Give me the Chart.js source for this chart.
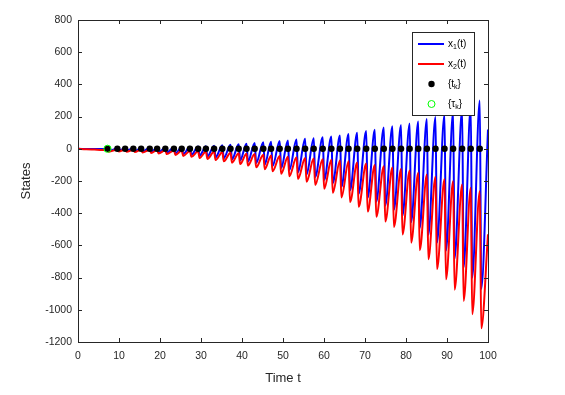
<!DOCTYPE html>
<html>
<head>
<meta charset="utf-8">
<title>States</title>
<script src="https://cdn.jsdelivr.net/npm/chart.js@4"></script>
<style>
    html, body { margin: 0; padding: 0; background: #fff; }
    canvas { display: block; }
</style>
</head>
<body>
<canvas id="statesChart" width="565" height="395"></canvas>
<script>
// impulse instants and the one tau instant
const tk = [7.2, 9.6, 11.5, 13.5, 15.4, 17.5, 19.3, 21.3, 23.4, 25.3, 27.3, 29.3, 31.2, 33.2, 35.2,
    37.2, 39.2, 41.1, 43.1, 45.2, 47.1, 49.2, 51.2, 53.3, 55.4, 57.5, 59.7, 61.8, 63.9, 66.0,
    68.1, 70.3, 72.4, 74.6, 76.7, 78.8, 80.9, 83.0, 85.1, 87.2, 89.4, 91.5, 93.7, 95.8, 98.0];
const tauK = [7.2];

// time of the dip after each impulse
const tDip = [7.55, 9.95, 11.85, 13.85, 15.75, 17.85, 19.65, 21.65, 23.75, 25.65, 27.65, 29.65, 31.55, 33.55, 35.55,
    37.55, 39.55, 41.45, 43.45, 45.55, 47.45, 49.55, 51.55, 53.65, 55.75, 57.85, 60.05, 62.15, 64.25, 66.35,
    68.45, 70.65, 72.75, 74.95, 77.05, 79.15, 81.25, 83.35, 85.45, 87.55, 89.75, 91.85, 94.05, 96.15, 98.35];

// x1 (blue): value at each impulse and at each dip
const x1Peak = [0, 2, 3, 4, 5, 6, 7, 8, 9, 10, 12, 14, 16, 19, 22,
    25, 28, 32, 36, 40, 44, 48, 52, 57, 62, 66, 71, 76, 82, 92,
    100, 110, 119, 132, 140, 148, 157, 169, 185, 198, 212, 228, 245, 265, 300];
const x1Dip = [-12, -11, -12, -14, -16, -19, -21, -24, -28, -33, -37, -43, -48, -53, -59,
    -66, -73, -80, -89, -98, -108, -120, -132, -146, -160, -175, -193, -213, -236, -258,
    -281, -304, -329, -353, -379, -415, -455, -491, -535, -583, -632, -682, -737, -801, -870];

// x2 (red)
const x2Peak = [-8, -5, -5, -6, -6, -7, -8, -9, -10, -11, -13, -15, -17, -19, -21,
    -24, -27, -30, -33, -37, -41, -45, -49, -53, -57, -61, -65, -68, -72, -78,
    -85, -92, -100, -108, -116, -125, -135, -148, -160, -174, -188, -202, -222, -242, -263];
const x2Dip = [-18, -16, -18, -20, -23, -26, -29, -33, -38, -44, -50, -57, -63, -70, -78,
    -86, -95, -104, -115, -127, -140, -155, -170, -188, -205, -225, -248, -273, -302, -331,
    -360, -390, -422, -452, -486, -532, -583, -630, -686, -748, -810, -875, -945, -1027, -1115];

// before the first impulse and the tail at t = 100
const tStart = [0, 2, 4, 6];
const x1Start = [0, -1, -2, -2];
const x2Start = [0, -3, -5, -7];
const tEnd = [100];
const x1End = [120];
const x2End = [-531];

const xTicks = [0, 10, 20, 30, 40, 50, 60, 70, 80, 90, 100];
const yTicks = [-1200, -1000, -800, -600, -400, -200, 0, 200, 400, 600, 800];

const FONT = '"Liberation Sans", Arial, Helvetica, sans-serif';
const AXIS_COLOR = '#262626';

function buildSeries(start, peaks, dips, end) {
    const pts = [];
    tStart.forEach((t, i) => pts.push({x: t, y: start[i]}));
    tk.forEach((t, i) => {
        pts.push({x: t, y: peaks[i]});
        pts.push({x: tDip[i], y: dips[i]});
    });
    tEnd.forEach((t, i) => pts.push({x: t, y: end[i]}));
    return pts;
}

// box round the axes with inward ticks, like matlab
const boxPlugin = {
    id: 'box',
    afterDraw(chart) {
        const {ctx, chartArea: a, scales} = chart;
        const len = 4;
        ctx.save();
        ctx.strokeStyle = AXIS_COLOR;
        ctx.lineWidth = 1;
        ctx.beginPath();
        xTicks.forEach(v => {
            const px = Math.round(scales.x.getPixelForValue(v)) + 0.5;
            ctx.moveTo(px, a.bottom); ctx.lineTo(px, a.bottom - len);
            ctx.moveTo(px, a.top); ctx.lineTo(px, a.top + len);
        });
        yTicks.forEach(v => {
            const py = Math.round(scales.y.getPixelForValue(v)) + 0.5;
            ctx.moveTo(a.left, py); ctx.lineTo(a.left + len, py);
            ctx.moveTo(a.right, py); ctx.lineTo(a.right - len, py);
        });
        ctx.stroke();
        ctx.strokeRect(Math.round(a.left) + 0.5, Math.round(a.top) + 0.5,
            Math.round(a.right - a.left), Math.round(a.bottom - a.top));
        ctx.restore();
    }
};

// legend inside the top right corner, with subscripts
const legendPlugin = {
    id: 'cornerLegend',
    afterDatasetsDraw(chart) {
        const ctx = chart.ctx;
        const bx = 412.5, by = 32.5, bw = 62, bh = 83;
        const entries = [
            {base: 'x', sub: '1', tail: '(t)', kind: 'line', color: '#0000ff'},
            {base: 'x', sub: '2', tail: '(t)', kind: 'line', color: '#ff0000'},
            {base: '{t', sub: 'k', tail: '}', kind: 'dot', color: '#000000'},
            {base: '{\u03c4', sub: 'k', tail: '}', kind: 'ring', color: '#00ff00'}
        ];
        ctx.save();
        ctx.fillStyle = '#fff';
        ctx.fillRect(bx, by, bw, bh);
        ctx.strokeStyle = AXIS_COLOR;
        ctx.lineWidth = 1;
        ctx.strokeRect(bx, by, bw, bh);

        entries.forEach((e, i) => {
            const y = 44 + i * 20;
            if (e.kind === 'line') {
                ctx.strokeStyle = e.color;
                ctx.lineWidth = 2;
                ctx.beginPath();
                ctx.moveTo(418, y); ctx.lineTo(444, y);
                ctx.stroke();
            } else if (e.kind === 'dot') {
                ctx.fillStyle = e.color;
                ctx.beginPath();
                ctx.arc(431.5, y, 3.2, 0, Math.PI * 2);
                ctx.fill();
            } else {
                ctx.strokeStyle = e.color;
                ctx.lineWidth = 1;
                ctx.beginPath();
                ctx.arc(431.5, y, 3.5, 0, Math.PI * 2);
                ctx.stroke();
            }
            ctx.fillStyle = '#000';
            ctx.textBaseline = 'middle';
            let x = 448;
            ctx.font = '10px ' + FONT;
            ctx.fillText(e.base, x, y);
            x += ctx.measureText(e.base).width;
            ctx.font = '7px ' + FONT;
            ctx.fillText(e.sub, x, y + 3);
            x += ctx.measureText(e.sub).width;
            ctx.font = '10px ' + FONT;
            ctx.fillText(e.tail, x, y);
        });
        ctx.restore();
    }
};

function drawChart() {
    const ctx = document.getElementById('statesChart').getContext('2d');
    new Chart(ctx, {
        type: 'line',
        data: {
            datasets: [{
                label: 'x1(t)',
                data: buildSeries(x1Start, x1Peak, x1Dip, x1End),
                borderColor: '#0000ff',
                borderWidth: 2,
                pointRadius: 0,
                cubicInterpolationMode: 'monotone',
                order: 4
            }, {
                label: 'x2(t)',
                data: buildSeries(x2Start, x2Peak, x2Dip, x2End),
                borderColor: '#ff0000',
                borderWidth: 2,
                pointRadius: 0,
                cubicInterpolationMode: 'monotone',
                order: 3
            }, {
                label: '{tk}',
                data: tk.map(t => ({x: t, y: 0})),
                showLine: false,
                pointRadius: 3.2,
                pointBackgroundColor: '#000',
                pointBorderWidth: 0,
                order: 2
            }, {
                label: '{tauk}',
                data: tauK.map(t => ({x: t, y: 0})),
                showLine: false,
                pointRadius: 3.6,
                pointBackgroundColor: 'rgba(0,0,0,0)',
                pointBorderColor: '#00ff00',
                pointBorderWidth: 1,
                order: 1
            }]
        },
        options: {
            responsive: false,
            animation: false,
            devicePixelRatio: 1,
            layout: { padding: { top: 20, right: 77, left: 0, bottom: 0 } },
            plugins: {
                legend: { display: false },
                tooltip: { enabled: false }
            },
            scales: {
                x: {
                    type: 'linear',
                    min: 0,
                    max: 100,
                    afterFit: s => { s.height = 53; },
                    afterBuildTicks: s => { s.ticks = xTicks.map(v => ({value: v})); },
                    ticks: {
                        font: { size: 10.5, family: FONT },
                        color: AXIS_COLOR,
                        padding: 8,
                        maxRotation: 0,
                        callback: v => String(v)
                    },
                    grid: { display: false, drawTicks: false },
                    border: { display: false },
                    title: {
                        display: true,
                        text: 'Time t',
                        font: { size: 13, family: FONT },
                        color: AXIS_COLOR,
                        padding: { top: 0, bottom: 9 }
                    }
                },
                y: {
                    type: 'linear',
                    min: -1200,
                    max: 800,
                    afterFit: s => { s.width = 78; },
                    afterBuildTicks: s => { s.ticks = yTicks.map(v => ({value: v})); },
                    ticks: {
                        font: { size: 10.5, family: FONT },
                        color: AXIS_COLOR,
                        padding: 6,
                        callback: v => String(v)
                    },
                    grid: { display: false, drawTicks: false },
                    border: { display: false },
                    title: {
                        display: true,
                        text: 'States',
                        font: { size: 13, family: FONT },
                        color: AXIS_COLOR,
                        padding: { top: 19, bottom: 0 }
                    }
                }
            }
        },
        plugins: [boxPlugin, legendPlugin]
    });
}

document.addEventListener("DOMContentLoaded", drawChart);
</script>
</body>
</html>
